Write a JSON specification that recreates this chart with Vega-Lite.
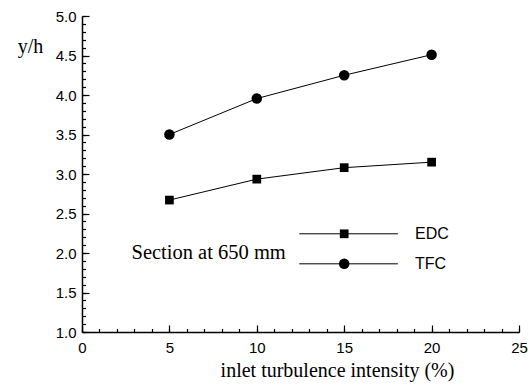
{
  "$schema": "https://vega.github.io/schema/vega-lite/v6.json",
  "autosize": "none",
  "width": 437,
  "height": 316,
  "padding": {"left": 82, "top": 16, "right": 11, "bottom": 53},
  "background": "white",
  "config": {
    "view": {"stroke": null},
    "axis": {
      "domainColor": "black", "domainWidth": 1.5, "tickColor": "black", "tickWidth": 1.2,
      "labelColor": "black", "labelFont": "Liberation Sans", "labelFontSize": 15, "labelFlush": false, "labelOverlap": false,
      "titleColor": "black", "titleFont": "Liberation Serif", "titleFontSize": 20, "titleFontWeight": "normal",
      "grid": false
    }
  },
  "datasets": {
    "main": [
      {"series": "EDC", "ti": 5, "yh": 2.67},
      {"series": "EDC", "ti": 10, "yh": 2.935},
      {"series": "EDC", "ti": 15, "yh": 3.08},
      {"series": "EDC", "ti": 20, "yh": 3.15},
      {"series": "TFC", "ti": 5, "yh": 3.5},
      {"series": "TFC", "ti": 10, "yh": 3.955},
      {"series": "TFC", "ti": 15, "yh": 4.25},
      {"series": "TFC", "ti": 20, "yh": 4.51}
    ],
    "legendLine": [
      {"series": "EDC", "ti": 12.43, "yh": 2.243},
      {"series": "EDC", "ti": 18.07, "yh": 2.243},
      {"series": "TFC", "ti": 12.43, "yh": 1.863},
      {"series": "TFC", "ti": 18.07, "yh": 1.863}
    ],
    "legendMark": [
      {"series": "EDC", "ti": 15, "yh": 2.243},
      {"series": "TFC", "ti": 15, "yh": 1.863}
    ],
    "legendLabel": [
      {"label": "EDC", "ti": 19.05, "yh": 2.243},
      {"label": "TFC", "ti": 19.05, "yh": 1.863}
    ],
    "note": [
      {"label": "Section at 650 mm", "ti": 11.66, "yh": 2.0}
    ]
  },
  "resolve": {"axis": {"x": "independent", "y": "independent"}},
  "layer": [
    {
      "data": {"name": "main"},
      "mark": {"type": "line", "color": "black", "strokeWidth": 1},
      "encoding": {
        "x": {"field": "ti", "type": "quantitative", "scale": {"domain": [0, 25], "nice": false},
          "axis": {"orient": "bottom", "values": [0, 5, 10, 15, 20, 25], "tickSize": -7, "labelPadding": 15,
            "title": "inlet turbulence intensity (%)", "titleX": 255, "titleY": 38, "titleAlign": "center", "titleBaseline": "middle", "titleAnchor": null}},
        "y": {"field": "yh", "type": "quantitative", "scale": {"domain": [1, 5], "nice": false, "zero": false},
          "axis": {"orient": "left", "values": [1, 1.5, 2, 2.5, 3, 3.5, 4, 4.5, 5], "format": ".1f", "tickSize": -7, "labelPadding": 13,
            "title": "y/h", "titleAngle": 0, "titleX": -52, "titleY": 30, "titleAlign": "center", "titleBaseline": "middle", "titleAnchor": null}},
        "detail": {"field": "series"}
      }
    },
    {
      "data": {"name": "main"},
      "mark": {"type": "point", "filled": true, "color": "black", "opacity": 1},
      "encoding": {
        "x": {"field": "ti", "type": "quantitative", "axis": null},
        "y": {"field": "yh", "type": "quantitative", "axis": null},
        "shape": {"field": "series", "type": "nominal", "scale": {"domain": ["EDC", "TFC"], "range": ["square", "circle"]}, "legend": null},
        "size": {"field": "series", "type": "nominal", "scale": {"domain": ["EDC", "TFC"], "range": [76, 110]}, "legend": null}
      }
    },
    {
      "data": {"name": "legendLine"},
      "mark": {"type": "line", "color": "black", "strokeWidth": 1},
      "encoding": {
        "x": {"field": "ti", "type": "quantitative", "axis": null},
        "y": {"field": "yh", "type": "quantitative", "axis": null},
        "detail": {"field": "series"}
      }
    },
    {
      "data": {"name": "legendMark"},
      "mark": {"type": "point", "filled": true, "color": "black", "opacity": 1},
      "encoding": {
        "x": {"field": "ti", "type": "quantitative",
          "axis": {"orient": "bottom", "values": [0,1,2,3,4,5,6,7,8,9,10,11,12,13,14,15,16,17,18,19,20,21,22,23,24,25], "labels": false, "domain": false, "tickSize": -3.5, "title": null}},
        "y": {"field": "yh", "type": "quantitative",
          "axis": {"orient": "left", "values": [1,1.1,1.2,1.3,1.4,1.5,1.6,1.7,1.8,1.9,2,2.1,2.2,2.3,2.4,2.5,2.6,2.7,2.8,2.9,3,3.1,3.2,3.3,3.4,3.5,3.6,3.7,3.8,3.9,4,4.1,4.2,4.3,4.4,4.5,4.6,4.7,4.8,4.9,5], "labels": false, "domain": false, "tickSize": -3.5, "title": null}},
        "shape": {"field": "series", "type": "nominal", "scale": {"domain": ["EDC", "TFC"], "range": ["square", "circle"]}, "legend": null},
        "size": {"field": "series", "type": "nominal", "scale": {"domain": ["EDC", "TFC"], "range": [60, 100]}, "legend": null}
      }
    },
    {
      "data": {"name": "legendLabel"},
      "mark": {"type": "text", "align": "left", "baseline": "middle", "font": "Liberation Sans", "fontSize": 16, "color": "black"},
      "encoding": {
        "x": {"field": "ti", "type": "quantitative", "axis": null},
        "y": {"field": "yh", "type": "quantitative", "axis": null},
        "text": {"field": "label"}
      }
    },
    {
      "data": {"name": "note"},
      "mark": {"type": "text", "align": "right", "baseline": "middle", "font": "Liberation Serif", "fontSize": 20.5, "color": "black"},
      "encoding": {
        "x": {"field": "ti", "type": "quantitative", "axis": null},
        "y": {"field": "yh", "type": "quantitative", "axis": null},
        "text": {"field": "label"}
      }
    }
  ]
}
